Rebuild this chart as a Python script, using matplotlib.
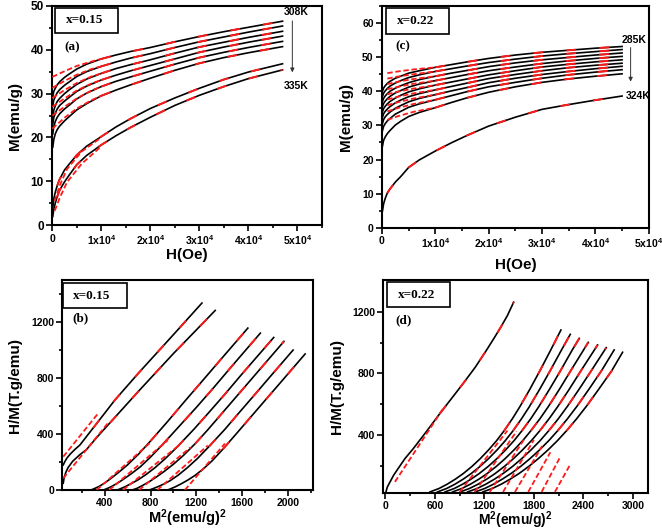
import matplotlib
matplotlib.use('Agg')
import matplotlib.pyplot as plt
from matplotlib.patches import Rectangle
from matplotlib.ticker import MultipleLocator, FixedLocator

# ---- panel (a): M vs H, x=0.15 (308K ... 335K) ----
A_H = [100, 300, 600, 1000, 1500, 2500, 3500, 5000, 7000, 10000,
       13000, 16000, 20000, 25000, 30000, 35000, 40000, 47000]
A_M = [
    [29.3, 30.5, 31.2, 32.0, 32.7, 33.7, 34.5, 35.6, 36.7, 37.9, 38.8, 39.6, 40.5, 41.8, 43.0, 44.1, 45.1, 46.5],
    [27.2, 28.5, 29.3, 30.2, 30.9, 31.9, 32.7, 33.9, 35.0, 36.2, 37.2, 38.1, 39.1, 40.5, 41.8, 42.9, 44.0, 45.4],
    [24.8, 26.2, 27.2, 28.2, 28.9, 30.0, 30.9, 32.1, 33.3, 34.6, 35.7, 36.6, 37.7, 39.2, 40.6, 41.7, 42.8, 44.2],
    [23.0, 24.5, 25.5, 26.5, 27.3, 28.3, 29.2, 30.5, 31.7, 33.1, 34.2, 35.2, 36.4, 37.9, 39.4, 40.6, 41.7, 43.1],
    [20.8, 22.5, 23.6, 24.6, 25.4, 26.5, 27.4, 28.8, 30.1, 31.6, 32.8, 33.8, 35.1, 36.7, 38.2, 39.4, 40.5, 41.9],
    [17.8, 19.5, 20.8, 21.8, 22.6, 23.8, 24.8, 26.3, 27.7, 29.5, 30.8, 32.0, 33.5, 35.3, 36.9, 38.2, 39.3, 40.7],
    [4.0, 6.0, 7.5, 9.0, 10.5, 12.6, 14.0, 16.0, 18.0, 20.2, 22.4, 24.3, 26.6, 29.0, 31.2, 33.2, 34.9, 36.8],
    [2.0, 3.6, 5.0, 6.5, 8.0, 9.9, 11.5, 13.8, 15.9, 18.3, 20.4, 22.3, 24.6, 27.3, 29.6, 31.6, 33.4, 35.4],
]
A_FIT_H = [0, 2500, 5000, 8000, 10000]
A_FIT_M = [
    [33.8, 35.1, 36.3, 37.3, 37.9],
    [31.3, 32.9, 34.3, 35.6, 36.2],
    [29.0, 30.8, 32.4, 33.9, 34.6],
    [27.0, 28.9, 30.7, 32.3, 33.1],
    [25.0, 27.0, 28.9, 30.7, 31.6],
    [22.0, 24.5, 26.6, 28.5, 29.5],
]
A_FIT_LOW_H = [500, 1500, 3000, 6000, 10000]
A_FIT_LOW_M = [
    [5.5, 9.0, 12.8, 16.8, 20.0],
    [3.3, 6.2, 9.8, 14.0, 18.0],
]

# ---- panel (c): M vs H, x=0.22 (285K ... 324K) ----
C_H = [100, 300, 600, 1000, 1500, 2500, 3500, 5000, 7000, 10000,
       13000, 16000, 20000, 25000, 30000, 35000, 40000, 45000]
C_M = [
    [40.0, 40.9, 41.6, 42.3, 42.9, 43.8, 44.4, 45.3, 46.0, 47.0, 47.8, 48.6, 49.6, 50.6, 51.4, 52.0, 52.6, 53.1],
    [38.5, 39.4, 40.1, 40.8, 41.5, 42.4, 43.1, 44.0, 44.8, 45.8, 46.6, 47.4, 48.4, 49.4, 50.3, 51.0, 51.6, 52.2],
    [37.0, 37.9, 38.6, 39.3, 40.0, 40.9, 41.6, 42.5, 43.4, 44.4, 45.3, 46.1, 47.2, 48.3, 49.2, 49.9, 50.6, 51.2],
    [35.5, 36.4, 37.1, 37.8, 38.5, 39.5, 40.2, 41.2, 42.1, 43.1, 44.0, 44.9, 46.0, 47.1, 48.1, 48.9, 49.6, 50.2],
    [34.0, 34.9, 35.6, 36.3, 37.0, 38.0, 38.8, 39.8, 40.7, 41.8, 42.7, 43.6, 44.8, 46.0, 47.1, 47.9, 48.6, 49.2],
    [32.4, 33.4, 34.1, 34.8, 35.5, 36.6, 37.4, 38.4, 39.3, 40.4, 41.4, 42.4, 43.7, 44.9, 46.0, 46.9, 47.6, 48.2],
    [30.6, 31.7, 32.5, 33.2, 33.9, 35.0, 35.8, 36.9, 37.9, 39.0, 40.1, 41.1, 42.5, 43.8, 44.9, 45.8, 46.6, 47.3],
    [28.5, 29.7, 30.5, 31.3, 32.0, 33.3, 34.1, 35.3, 36.3, 37.5, 38.7, 39.9, 41.3, 42.6, 43.8, 44.8, 45.6, 46.3],
    [24.0, 25.6, 26.6, 27.6, 28.5, 30.1, 31.2, 32.6, 33.8, 35.2, 36.7, 38.1, 39.7, 41.3, 42.6, 43.6, 44.4, 45.1],
    [5.0, 7.0, 8.6, 10.2, 11.4, 13.4, 15.0, 17.7, 19.9, 22.5, 24.9, 27.1, 29.8, 32.4, 34.7, 36.1, 37.4, 38.6],
]
C_FIT_H = [1000, 3000, 6000, 10000]
C_FIT_M = [
    [45.3, 45.8, 46.4, 47.0],
    [43.7, 44.3, 45.0, 45.8],
    [42.1, 42.8, 43.6, 44.4],
    [40.6, 41.3, 42.2, 43.1],
    [39.1, 39.9, 40.8, 41.8],
    [37.6, 38.4, 39.4, 40.4],
    [35.9, 36.8, 37.9, 39.0],
    [34.1, 35.1, 36.3, 37.5],
    [31.6, 32.7, 34.0, 35.2],
]

# ---- panel (b): Arrott plot H/M vs M^2, x=0.15 ----
B_X = [
    [38, 50, 70, 100, 140, 184, 240, 300, 400, 490, 700, 1000, 1249],
    [38, 45, 60, 80, 120, 180, 242, 330, 446, 700, 1000, 1365],
    [280, 310, 350, 400, 450, 520, 600, 700, 800, 950, 1100, 1250, 1400, 1650],
    [390, 420, 460, 510, 560, 630, 710, 800, 900, 1050, 1200, 1350, 1500, 1759],
    [510, 540, 580, 630, 690, 760, 840, 930, 1030, 1180, 1300, 1450, 1600, 1876],
    [640, 680, 730, 790, 850, 920, 1000, 1090, 1190, 1300, 1420, 1560, 1720, 1965],
    [790, 820, 860, 910, 970, 1040, 1120, 1210, 1310, 1450, 1570, 1700, 1830, 2045],
    [950, 980, 1020, 1070, 1130, 1190, 1260, 1340, 1430, 1540, 1660, 1780, 1930, 2150],
]
B_Y = [
    [179, 200, 228, 258, 290, 322, 381, 444, 549, 644, 840, 1110, 1336],
    [48, 85, 125, 160, 205, 250, 290, 375, 480, 710, 975, 1283],
    [0, 10, 25, 50, 80, 125, 180, 260, 350, 490, 635, 777, 920, 1157],
    [0, 10, 25, 48, 75, 115, 165, 235, 320, 455, 590, 730, 875, 1121],
    [0, 10, 24, 45, 72, 110, 160, 225, 305, 435, 545, 685, 830, 1090],
    [0, 11, 32, 60, 92, 133, 184, 249, 331, 430, 544, 677, 829, 1062],
    [0, 9, 22, 40, 66, 105, 158, 225, 310, 434, 549, 672, 796, 1000],
    [0, 10, 24, 45, 73, 105, 150, 210, 290, 393, 507, 621, 763, 972],
]
B_FIT_X = [[38, 344], [38, 440], [330, 800], [440, 950],
           [560, 1050], [700, 1150], [860, 1300], [1100, 1450]]
B_FIT_Y = [[238, 549], [84, 490], [0, 340], [0, 355],
           [0, 320], [0, 305], [0, 318], [0, 332]]

# ---- panel (d): Arrott plot H/M vs M^2, x=0.22 ----
D_X = [
    [8, 25, 60, 100, 150, 240, 339, 500, 662, 800, 945, 1090, 1228, 1320, 1400, 1480, 1555],
    [541, 650, 750, 850, 945, 1050, 1150, 1250, 1349, 1440, 1540, 1631, 1750, 1873, 2000, 2128],
    [632, 742, 844, 945, 1041, 1148, 1250, 1353, 1454, 1548, 1651, 1746, 1869, 1997, 2130, 2241],
    [724, 835, 937, 1040, 1138, 1247, 1351, 1456, 1560, 1656, 1763, 1860, 1988, 2122, 2260, 2350],
    [815, 927, 1031, 1135, 1234, 1345, 1451, 1558, 1665, 1764, 1874, 1975, 2108, 2246, 2459],
    [907, 1019, 1124, 1230, 1331, 1443, 1552, 1661, 1770, 1872, 1985, 2089, 2227, 2370, 2572],
    [998, 1112, 1218, 1324, 1427, 1542, 1652, 1764, 1876, 1980, 2097, 2204, 2346, 2495, 2677],
    [1089, 1204, 1311, 1419, 1523, 1640, 1752, 1867, 1981, 2088, 2208, 2319, 2465, 2619, 2773],
    [1181, 1296, 1405, 1514, 1620, 1738, 1853, 1970, 2086, 2196, 2319, 2433, 2584, 2743, 2875],
]
D_Y = [
    [33, 65, 100, 140, 180, 250, 313, 425, 541, 636, 736, 840, 952, 1030, 1100, 1175, 1261],
    [33, 55, 83, 116, 152, 198, 248, 304, 365, 429, 507, 585, 696, 817, 947, 1081],
    [33, 55, 83, 116, 152, 198, 248, 304, 365, 429, 507, 585, 696, 817, 947, 1053],
    [33, 55, 83, 116, 152, 198, 248, 304, 365, 429, 507, 585, 696, 817, 947, 1027],
    [33, 55, 83, 116, 152, 198, 248, 304, 365, 429, 507, 585, 696, 817, 1001],
    [33, 55, 83, 116, 152, 198, 248, 304, 365, 429, 507, 585, 696, 817, 984],
    [33, 55, 83, 116, 152, 198, 248, 304, 365, 429, 507, 585, 696, 817, 967],
    [33, 55, 83, 116, 152, 198, 248, 304, 365, 429, 507, 585, 696, 817, 952],
    [33, 55, 83, 116, 152, 198, 248, 304, 365, 429, 507, 585, 696, 817, 937],
]
D_FIT_X = [[117, 703], [902, 1480], [1084, 1590], [1266, 1690], [1427, 1800],
           [1571, 1900], [1732, 2000], [1894, 2120], [2055, 2240]]
D_FIT_Y = [[98, 574], [33, 430], [33, 425], [33, 380], [33, 370],
           [33, 330], [33, 290], [33, 260], [33, 210]]

H_TICKS = [0, 10000, 20000, 30000, 40000, 50000]
H_TICKLABELS = ['0', '1x10$^{4}$', '2x10$^{4}$', '3x10$^{4}$', '4x10$^{4}$', '5x10$^{4}$']

plt.rcParams['font.family'] = 'Liberation Sans'
plt.rcParams['font.weight'] = 'bold'
plt.rcParams['mathtext.fontset'] = 'custom'
plt.rcParams['mathtext.rm'] = 'Liberation Sans:bold'
plt.rcParams['mathtext.default'] = 'rm'
plt.rcParams['axes.linewidth'] = 1.5

RED = '#ff1a1a'
DENSE = (3, 1.5)
SPARSE = (5, 12)


def style_axes(ax, label_size=8, pad=2):
    ax.tick_params(which='both', direction='out', top=False, right=False,
                   width=1.2, labelsize=label_size, pad=pad)
    ax.tick_params(which='major', length=4)
    ax.tick_params(which='minor', length=2.5)
    for t in ax.get_xticklabels() + ax.get_yticklabels():
        t.set_fontweight('bold')


def inset_box(ax, x0, y0, w, h, text, tag, tag_xy):
    ax.add_patch(Rectangle((x0, y0), w, h, transform=ax.transAxes, fill=False,
                           lw=1.2, ec='black', zorder=5))
    ax.text(x0 + 0.04, y0 + h / 2, text, transform=ax.transAxes, va='center',
            ha='left', family='Liberation Serif', weight='bold', fontsize=9.5)
    ax.text(tag_xy[0], tag_xy[1], tag, transform=ax.transAxes, va='center',
            ha='left', family='Liberation Serif', weight='bold', fontsize=9.5)


fig = plt.figure(figsize=(6.62, 5.30), dpi=100)
ax_a = fig.add_axes([0.079, 0.575, 0.407, 0.414])
ax_c = fig.add_axes([0.577, 0.570, 0.403, 0.419])
ax_b = fig.add_axes([0.094, 0.0755, 0.379, 0.396])
ax_d = fig.add_axes([0.5785, 0.0698, 0.400, 0.402])

# (a)
for i, m in enumerate(A_M):
    ax_a.plot(A_H, m, color='black', lw=1.2, zorder=2)
    start = 9 if i < len(A_FIT_M) else 3
    ax_a.plot(A_H[start:], m[start:], color=RED, lw=1.4, dashes=SPARSE, zorder=3)
for m in A_FIT_M:
    ax_a.plot(A_FIT_H, m, color=RED, lw=1.3, dashes=DENSE, zorder=3)
for m in A_FIT_LOW_M:
    ax_a.plot(A_FIT_LOW_H, m, color=RED, lw=1.3, dashes=DENSE, zorder=3)
ax_a.set_xlim(0, 55000)
ax_a.set_ylim(0, 50)
ax_a.xaxis.set_major_locator(FixedLocator(H_TICKS))
ax_a.set_xticklabels(H_TICKLABELS)
ax_a.xaxis.set_minor_locator(MultipleLocator(5000))
ax_a.yaxis.set_major_locator(MultipleLocator(10))
ax_a.yaxis.set_minor_locator(MultipleLocator(5))
style_axes(ax_a, 8.5)
ax_a.tick_params(axis='x', labelsize=7.5)
ax_a.set_xlabel('H(Oe)', fontsize=11, fontweight='bold')
ax_a.set_ylabel('M(emu/g)', fontsize=11, fontweight='bold')
ax_a.xaxis.set_label_coords(0.5, -0.105)
ax_a.yaxis.set_label_coords(-0.112, 0.5)
inset_box(ax_a, 0.01, 0.877, 0.234, 0.114, 'x=0.15', '(a)', (0.043, 0.813))
ax_a.text(49800, 48.5, '308K', ha='center', va='center', fontsize=7.5, fontweight='bold')
ax_a.text(49800, 31.8, '335K', ha='center', va='center', fontsize=7.5, fontweight='bold')
ax_a.annotate('', xy=(49000, 34.2), xytext=(49000, 47.2),
              arrowprops=dict(arrowstyle='-|>', color='#333333', lw=0.7,
                              mutation_scale=6))

# (c)
for i, m in enumerate(C_M):
    ax_c.plot(C_H, m, color='black', lw=1.2, zorder=2)
    start = 9 if i < len(C_FIT_M) else 3
    ax_c.plot(C_H[start:], m[start:], color=RED, lw=1.4, dashes=SPARSE, zorder=3)
for m in C_FIT_M:
    ax_c.plot(C_FIT_H, m, color=RED, lw=1.3, dashes=DENSE, zorder=3)
ax_c.set_xlim(0, 50000)
ax_c.set_ylim(0, 65)
ax_c.xaxis.set_major_locator(FixedLocator(H_TICKS))
ax_c.set_xticklabels(H_TICKLABELS)
ax_c.xaxis.set_minor_locator(MultipleLocator(5000))
ax_c.yaxis.set_major_locator(MultipleLocator(10))
ax_c.yaxis.set_minor_locator(MultipleLocator(5))
style_axes(ax_c, 7.5)
ax_c.set_xlabel('H(Oe)', fontsize=11, fontweight='bold')
ax_c.set_ylabel('M(emu/g)', fontsize=11, fontweight='bold')
ax_c.xaxis.set_label_coords(0.5, -0.135)
ax_c.yaxis.set_label_coords(-0.108, 0.5)
inset_box(ax_c, 0.015, 0.874, 0.236, 0.117, 'x=0.22', '(c)', (0.049, 0.82))
ax_c.text(47300, 55.0, '285K', ha='center', va='center', fontsize=7.5, fontweight='bold')
ax_c.text(48000, 38.6, '324K', ha='center', va='center', fontsize=7.5, fontweight='bold')
ax_c.annotate('', xy=(46600, 42.0), xytext=(46600, 53.6),
              arrowprops=dict(arrowstyle='-|>', color='#333333', lw=0.7,
                              mutation_scale=6))

# (b)
b_red_start = [7, 8, 8, 8, 8, 8, 8, 8]
for x, y, s in zip(B_X, B_Y, b_red_start):
    ax_b.plot(x, y, color='black', lw=1.2, zorder=2)
    ax_b.plot(x[s:], y[s:], color=RED, lw=1.4, dashes=SPARSE, zorder=3)
for x, y in zip(B_FIT_X, B_FIT_Y):
    ax_b.plot(x, y, color=RED, lw=1.3, dashes=DENSE, zorder=3)
ax_b.set_xlim(29, 2220)
ax_b.set_ylim(0, 1500)
ax_b.xaxis.set_major_locator(FixedLocator([400, 800, 1200, 1600, 2000]))
ax_b.xaxis.set_minor_locator(MultipleLocator(200))
ax_b.yaxis.set_major_locator(FixedLocator([0, 400, 800, 1200]))
ax_b.yaxis.set_minor_locator(MultipleLocator(200))
style_axes(ax_b, 7.5)
ax_b.set_xlabel('M$^{2}$(emu/g)$^{2}$', fontsize=10.5, fontweight='bold')
ax_b.set_ylabel('H/M(T.g/emu)', fontsize=11, fontweight='bold')
ax_b.xaxis.set_label_coords(0.5, -0.085)
ax_b.yaxis.set_label_coords(-0.161, 0.5)
inset_box(ax_b, 0.003, 0.867, 0.255, 0.119, 'x=0.15', '(b)', (0.039, 0.82))

# (d)
d_red_start = [8, 9, 9, 9, 9, 9, 9, 9, 9]
for x, y, s in zip(D_X, D_Y, d_red_start):
    ax_d.plot(x, y, color='black', lw=1.2, zorder=2)
    ax_d.plot(x[s:], y[s:], color=RED, lw=1.4, dashes=SPARSE, zorder=3)
for x, y in zip(D_FIT_X, D_FIT_Y):
    ax_d.plot(x, y, color=RED, lw=1.3, dashes=DENSE, zorder=3)
ax_d.set_xlim(-28, 3180)
ax_d.set_ylim(26, 1405)
ax_d.xaxis.set_major_locator(FixedLocator([0, 600, 1200, 1800, 2400, 3000]))
ax_d.xaxis.set_minor_locator(MultipleLocator(300))
ax_d.yaxis.set_major_locator(FixedLocator([400, 800, 1200]))
ax_d.yaxis.set_minor_locator(FixedLocator([200, 600, 1000]))
style_axes(ax_d, 7.5, pad=1.5)
ax_d.set_xlabel('M$^{2}$(emu/g)$^{2}$', fontsize=10, fontweight='bold')
ax_d.set_ylabel('H/M(T.g/emu)', fontsize=11, fontweight='bold')
ax_d.xaxis.set_label_coords(0.5, -0.078)
ax_d.yaxis.set_label_coords(-0.147, 0.5)
inset_box(ax_d, 0.015, 0.873, 0.238, 0.117, 'x=0.22', '(d)', (0.045, 0.81))

fig.savefig('out.png', dpi=100)
